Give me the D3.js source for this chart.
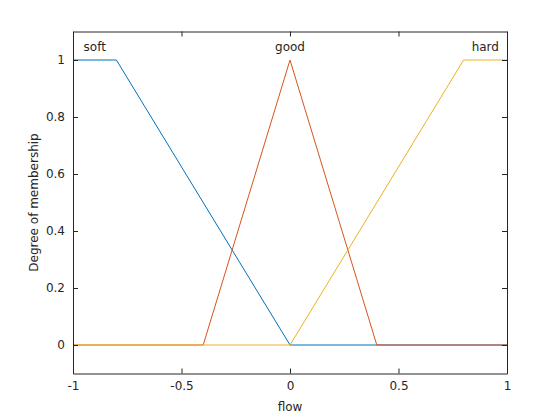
<!DOCTYPE html>
<html><head><meta charset="utf-8">
<script src="https://cdn.jsdelivr.net/npm/d3@7"></script>
<style>body{margin:0;background:#fff}text{font-family:"DejaVu Sans",sans-serif;font-size:12px;fill:#262626}</style>
</head><body><svg id="c" width="560" height="420"></svg>
<script>
// membership functions for "flow"
var names = ["soft", "good", "hard"];
var colors = ["#0072BD", "#D95319", "#EDB120"];
var xs = [[-1, -0.8, 0, 1], [-1, -0.4, 0, 0.4, 1], [-1, 0, 0.8, 1]];
var ys = [[1, 1, 0, 0], [0, 0, 1, 0, 0], [0, 0, 1, 1]];
var labelX = [-0.9, 0, 0.9];
var xTicks = [-1, -0.5, 0, 0.5, 1];
var yTicks = [0, 0.2, 0.4, 0.6, 0.8, 1];

var svg = d3.select("#c");
var x = d3.scaleLinear().domain([-1, 1]).range([73, 507]);
var y = d3.scaleLinear().domain([-0.1, 1.1]).range([373.5, 31.5]);

var line = d3.line().x(function(d) { return x(d[0]); }).y(function(d) { return y(d[1]); });

names.forEach(function(n, i) {
  svg.append("path")
    .datum(d3.zip(xs[i], ys[i]))
    .attr("d", line)
    .attr("fill", "none")
    .attr("stroke", colors[i])
    .attr("stroke-width", 1);
  svg.append("text")
    .attr("x", x(labelX[i])).attr("y", 51)
    .attr("text-anchor", "middle")
    .text(n);
});

var fmt = function(d) { return String(d); }; // plain hyphen like MATLAB

svg.append("g").attr("transform", "translate(0,373.5)")
  .call(d3.axisBottom(x).tickValues(xTicks).tickSizeInner(-5).tickSizeOuter(0).tickPadding(8).tickFormat(fmt));
svg.append("g").attr("transform", "translate(0,31.5)")
  .call(d3.axisTop(x).tickValues(xTicks).tickSizeInner(-5).tickSizeOuter(0).tickFormat(""));
svg.append("g").attr("transform", "translate(73,0)")
  .call(d3.axisLeft(y).tickValues(yTicks).tickSizeInner(-5).tickSizeOuter(0).tickPadding(8).tickFormat(fmt));
svg.append("g").attr("transform", "translate(507,0)")
  .call(d3.axisRight(y).tickValues(yTicks).tickSizeInner(-5).tickSizeOuter(0).tickFormat(""));

svg.selectAll(".domain").attr("stroke", "#262626");
svg.selectAll(".tick line").attr("stroke", "#262626");
svg.selectAll(".tick text").style("font-size", "12px").attr("fill", "#262626");

svg.append("text").attr("x", 290).attr("y", 411).attr("text-anchor", "middle").text("flow");
svg.append("text").attr("transform", "translate(38,202.5) rotate(-90)")
  .attr("text-anchor", "middle").text("Degree of membership");
</script></body></html>
